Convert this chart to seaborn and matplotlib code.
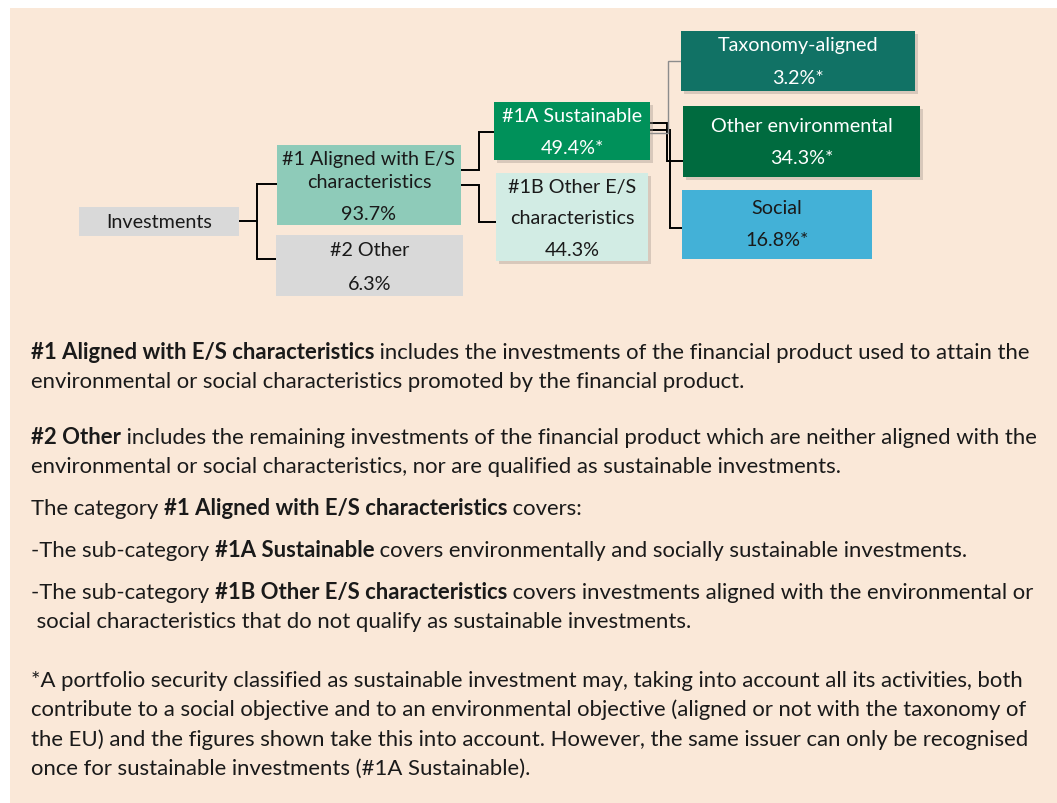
import matplotlib
matplotlib.use("Agg")
import matplotlib.pyplot as plt
from matplotlib.patches import Rectangle
import seaborn as sns

# Data: allocation tree
node_names = ["Investments", "#1 Aligned with E/S\ncharacteristics", "#2 Other",
              "#1A Sustainable", "#1B Other E/S\ncharacteristics",
              "Taxonomy-aligned", "Other environmental", "Social"]
node_shares = [None, "93.7%", "6.3%", "49.4%*", "44.3%", "3.2%*", "34.3%*", "16.8%*"]

# Notes below the diagram: lists of (text, bold) runs per line
note_lines = [
    [("#1 Aligned with E/S characteristics", True),
     (" includes the investments of the financial product used to attain the", False)],
    [("environmental or social characteristics promoted by the financial product.", False)],
    [("#2 Other", True),
     (" includes the remaining investments of the financial product which are neither aligned with the", False)],
    [("environmental or social characteristics, nor are qualified as sustainable investments.", False)],
    [("The category ", False), ("#1 Aligned with E/S characteristics", True), (" covers:", False)],
    [("-The sub-category ", False), ("#1A Sustainable", True),
     (" covers environmentally and socially sustainable investments.", False)],
    [("-The sub-category ", False), ("#1B Other E/S characteristics", True),
     (" covers investments aligned with the environmental or", False)],
    [(" social characteristics that do not qualify as sustainable investments.", False)],
    [("*A portfolio security classified as sustainable investment may, taking into account all its activities, both", False)],
    [("contribute to a social objective and to an environmental objective (aligned or not with the taxonomy of", False)],
    [("the EU) and the figures shown take this into account. However, the same issuer can only be recognised", False)],
    [("once for sustainable investments (#1A Sustainable).", False)],
]

# Layout (pixels)
boxes = [  # x0, y0, x1, y1, face, text colour, shadow
    (79, 208, 239, 237, "#D9D9D9", "#1A1A1A", False),
    (277, 146, 461, 226, "#8ECBB9", "#1A1A1A", False),
    (276, 236, 463, 297, "#D9D9D9", "#1A1A1A", False),
    (494, 103, 650, 161, "#00915A", "white", True),
    (496, 174, 648, 262, "#D2ECE4", "#1A1A1A", True),
    (681, 32, 915, 92, "#117265", "white", True),
    (683, 107, 920, 178, "#006B3F", "white", True),
    (682, 191, 872, 260, "#43B1D7", "#1A1A1A", False),
]
label_y = [[223], [159, 182], [251], [117], [187, 218], [46], [126], [209]]
share_y = [None, 215, 285, 149, 251, 78, 158, 241]
connectors = [
    ([239, 257], [222, 222], "black", 1.4),
    ([277, 257, 257, 277], [185, 185, 260, 260], "black", 1.4),
    ([461, 479, 479, 494], [171, 171, 133, 133], "black", 1.4),
    ([461, 479, 479, 496], [186, 186, 223, 223], "black", 1.4),
    ([650, 667, 667, 683], [124, 124, 162, 162], "black", 1.4),
    ([650, 670, 670, 682], [131, 131, 229, 229], "black", 1.4),
    ([650, 668, 668, 681], [134, 134, 62, 62], "#8C8C8C", 1.0),
]
note_baselines = [359, 388, 444, 473, 515, 557, 599, 628, 687, 716, 746, 775]
note_x = [31] * len(note_lines)

sns.set_theme(style="white")
plt.rcParams["font.family"] = ["Lato", "DejaVu Sans"]

W, H = 1057, 804
fig = plt.figure(figsize=(W / 100, H / 100), dpi=100)
ax = fig.add_axes([0, 0, 1, 1])
ax.set_xlim(0, W)
ax.set_ylim(H, 0)
ax.axis("off")

ax.add_patch(Rectangle((10, 9), W - 10, H - 9, facecolor="#FAE8D8", edgecolor="none", zorder=0))

for xs, ys, c, lw in connectors:
    ax.plot(xs, ys, color=c, lw=lw, solid_joinstyle="miter", zorder=1)

box_fs = 14.2
for i, (x0, y0, x1, y1, face, tc, shadow) in enumerate(boxes):
    if shadow:
        ax.add_patch(Rectangle((x0 + 3, y0 + 3), x1 - x0, y1 - y0, facecolor="#A59A90",
                               alpha=0.4, edgecolor="none", zorder=2))
    ax.add_patch(Rectangle((x0, y0), x1 - x0, y1 - y0, facecolor=face, edgecolor="none", zorder=3))
    cx = (x0 + x1) / 2
    for ln, yy in zip(node_names[i].split("\n"), label_y[i]):
        ax.text(cx, yy, ln, ha="center", va="center", fontsize=box_fs, color=tc, zorder=4)
    if node_shares[i] is not None:
        ax.text(cx, share_y[i], node_shares[i], ha="center", va="center", fontsize=box_fs,
                color=tc, zorder=4)

# Notes: fit font size so the first line spans the measured width
renderer = fig.canvas.get_renderer()


def run_width(runs, fs):
    w = 0
    for txt, bold in runs:
        t = ax.text(0, 0, txt.replace(" ", "\u00a0"), fontsize=fs,
                    fontweight="bold" if bold else "normal")
        w += t.get_window_extent(renderer).width
        t.remove()
    return w


ref_fs = 14
note_fs = ref_fs * 1002 / run_width(note_lines[0], ref_fs)

for runs, yb, x in zip(note_lines, note_baselines, note_x):
    for txt, bold in runs:
        t = ax.text(x, yb, txt.replace(" ", "\u00a0"), fontsize=note_fs, color="#1A1A1A",
                    fontweight="bold" if bold else "normal", ha="left", va="baseline", zorder=4)
        x += t.get_window_extent(renderer).width

fig.savefig("out.png", dpi=100, facecolor="white")
